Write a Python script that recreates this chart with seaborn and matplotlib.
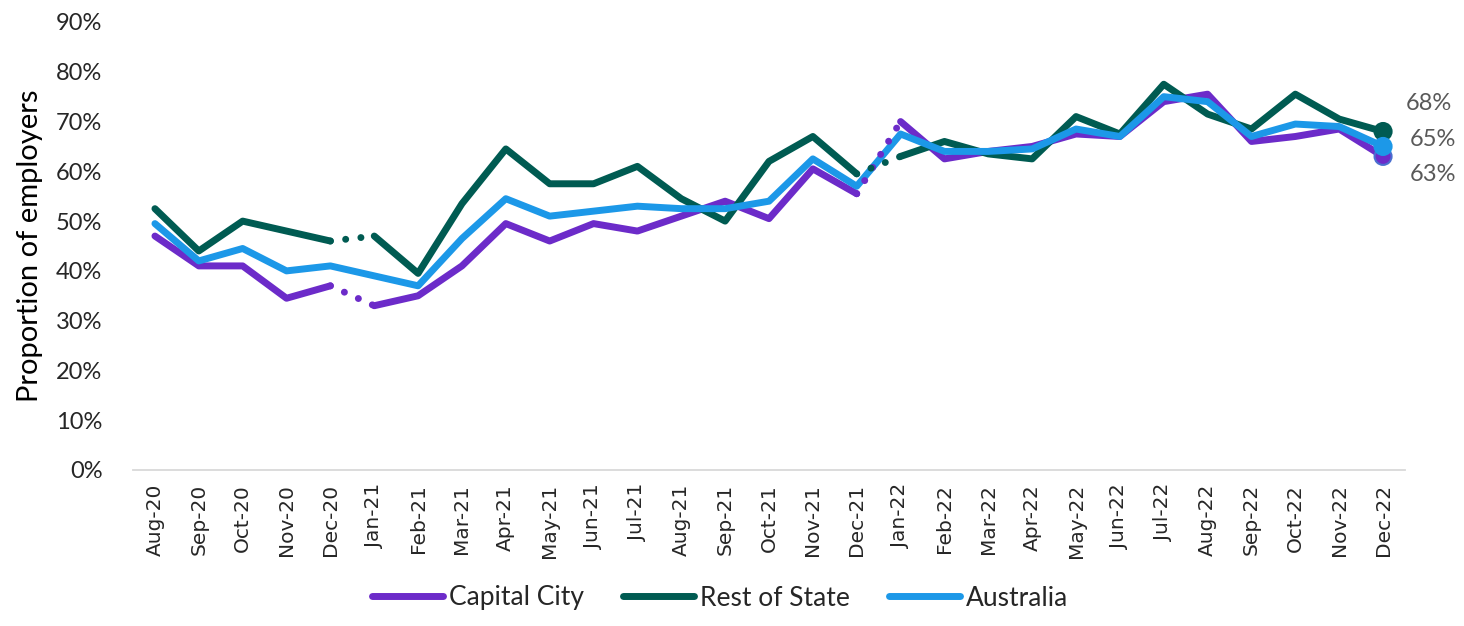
import pandas as pd
import matplotlib
matplotlib.use("Agg")
import matplotlib.pyplot as plt
from matplotlib.lines import Line2D
import seaborn as sns

# Monthly share of employers (%), Aug-20 .. Dec-22
months = ["Aug-20", "Sep-20", "Oct-20", "Nov-20", "Dec-20",
          "Jan-21", "Feb-21", "Mar-21", "Apr-21", "May-21", "Jun-21",
          "Jul-21", "Aug-21", "Sep-21", "Oct-21", "Nov-21", "Dec-21",
          "Jan-22", "Feb-22", "Mar-22", "Apr-22", "May-22", "Jun-22",
          "Jul-22", "Aug-22", "Sep-22", "Oct-22", "Nov-22", "Dec-22"]
capital_city = [47, 41, 41, 34.5, 37,
                33, 35, 41, 49.5, 46, 49.5, 48, 51, 54, 50.5, 60.5, 55.5,
                70, 62.5, 64, 65, 67.5, 67, 74, 75.5, 66, 67, 68.5, 63]
rest_of_state = [52.5, 44, 50, 48, 46,
                 47, 39.5, 53.5, 64.5, 57.5, 57.5, 61, 54.5, 50, 62, 67, 59.5,
                 63, 66, 63.5, 62.5, 71, 67.5, 77.5, 71.5, 68.5, 75.5, 70.5, 68]
australia = [49.5, 42, 44.5, 40, 41,
             39, 37, 46.5, 54.5, 51, 52, 53, 52.5, 52.5, 54, 62.5, 57,
             67.5, 64, 64, 64.5, 68.5, 67, 75, 74, 67, 69.5, 69, 65]

series_names = ["Capital City", "Rest of State", "Australia"]
series_values = [capital_city, rest_of_state, australia]
# months after which the line is shown dotted to the next month
dotted_after = {"Capital City": ["Dec-20", "Dec-21"],
                "Rest of State": ["Dec-20", "Dec-21"],
                "Australia": []}

colors = {"Capital City": "#6C2BC9", "Rest of State": "#005B52", "Australia": "#1C98E8"}

# long tables: solid segments and dotted connectors
rows, links = [], []
for name, vals in zip(series_names, series_values):
    seg = 0
    for i, (m, v) in enumerate(zip(months, vals)):
        rows.append({"x": i, "value": v, "series": name, "unit": f"{name}-{seg}"})
        if m in dotted_after[name]:
            links.append({"x": i, "value": v, "series": name, "unit": f"{name}-{m}"})
            links.append({"x": i + 1, "value": vals[i + 1], "series": name, "unit": f"{name}-{m}"})
            seg += 1
df = pd.DataFrame(rows)
df_links = pd.DataFrame(links)
df_last = df[df["x"] == len(months) - 1]

sns.set_style("white")
plt.rcParams["font.family"] = ["Lato", "DejaVu Sans"]

fig = plt.figure(figsize=(14.64, 6.26), dpi=100)
ax = fig.add_axes([133 / 1464, 1 - 470 / 626, 1272 / 1464, 448 / 626])

sns.lineplot(data=df, x="x", y="value", hue="series", units="unit",
             estimator=None, palette=colors, hue_order=series_names,
             linewidth=5, solid_capstyle="round", solid_joinstyle="round",
             legend=False, ax=ax)
sns.lineplot(data=df_links, x="x", y="value", hue="series", units="unit",
             estimator=None, palette=colors, hue_order=series_names,
             linewidth=5, linestyle=(0, (0.01, 2.2)), dash_capstyle="round",
             legend=False, ax=ax)
sns.scatterplot(data=df_last, x="x", y="value", hue="series", palette=colors,
                hue_order=series_names, s=150, linewidth=1.5,
                edgecolor=["#4A6FD0", colors["Rest of State"], colors["Australia"]],
                legend=False, ax=ax, zorder=5)

# end-point labels
offsets = {"Rest of State": (16, 20), "Australia": (19, 5), "Capital City": (19, -13)}
for _, r in df_last.iterrows():
    ax.annotate(f"{r['value']:.0f}%", xy=(r["x"], r["value"]),
                xytext=offsets[r["series"]], textcoords="offset points",
                fontsize=17, color="#595959", va="center", ha="left",
                annotation_clip=False)

ax.set_xlim(-0.5, len(months) - 0.5)
ax.set_ylim(0, 90)
ax.set_yticks(range(0, 91, 10))
ax.set_yticklabels([f"{t}%" for t in range(0, 91, 10)], fontsize=17, color="#262626")
ax.set_xticks(range(len(months)))
ax.set_xticklabels(months, rotation=90, fontsize=14.5, color="#262626",
                   family="DejaVu Sans")
ax.set_xticks([i - 0.5 for i in range(len(months) + 1)], minor=True)
ax.tick_params(axis="x", which="major", length=0, pad=10)
ax.tick_params(axis="x", which="minor", length=6, width=1.3, color="#D9D9D9")
ax.tick_params(axis="y", length=0, pad=22)
ax.set_xlabel("")
ax.set_ylabel("Proportion of employers", fontsize=21, color="#000000")
ax.yaxis.set_label_coords(-0.071, 0.5)

for side in ["top", "right", "left"]:
    ax.spines[side].set_visible(False)
ax.spines["bottom"].set_color("#D9D9D9")
ax.spines["bottom"].set_linewidth(1.3)
ax.grid(False)

handles = [Line2D([0], [0], color=colors[n], lw=5, solid_capstyle="round") for n in series_names]
fig.legend(handles, series_names, loc="center", bbox_to_anchor=(720 / 1464, 1 - 598 / 626),
           ncol=3, frameon=False, fontsize=19, handlelength=2.7, handletextpad=0.2,
           columnspacing=1.5)

fig.savefig("out.png", dpi=100)
